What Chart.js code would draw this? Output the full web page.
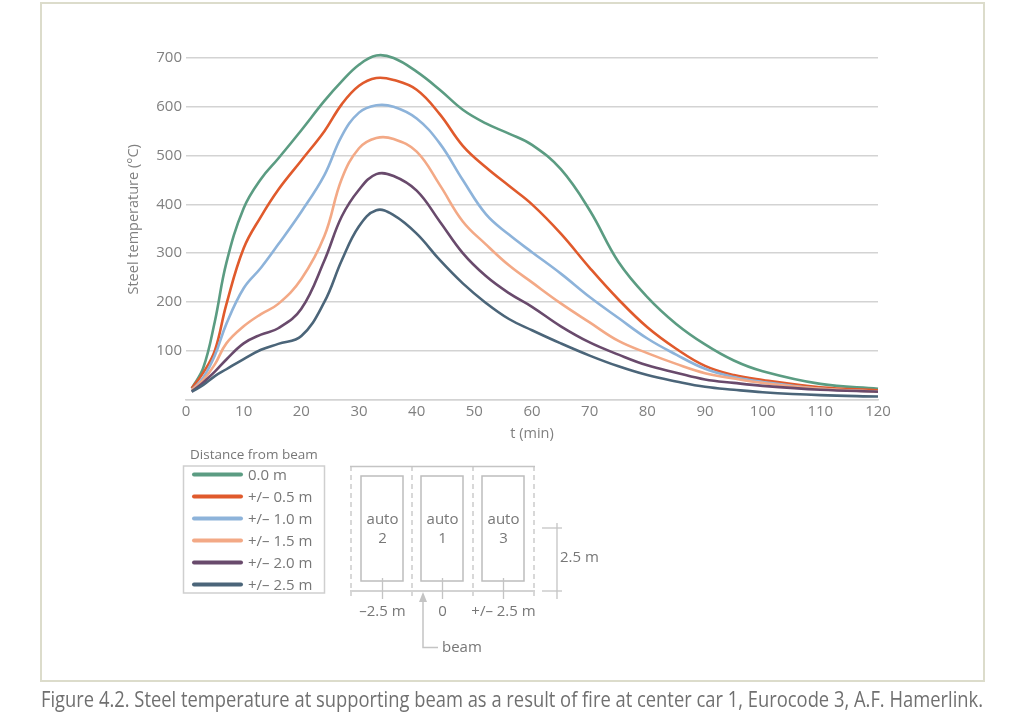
<!DOCTYPE html>
<html>
<head>
<meta charset="utf-8">
<script src="https://cdn.jsdelivr.net/npm/chart.js@4/dist/chart.umd.min.js"></script>
<style>
  body { margin: 0; background: #fff; font-family: "Open Sans", sans-serif; }
  #frame { position: absolute; left: 40px; top: 2px; width: 945px; height: 680px; box-sizing: border-box; border: 2px solid #dcdccb; }
  #wrap { position: absolute; left: 40px; top: 2px; width: 945px; height: 445px; }
  #extra { position: absolute; left: 0; top: 0; }
</style>
</head>
<body>
<div id="frame"></div>
<div id="wrap"><canvas id="canvas" width="945" height="445"></canvas></div>
<svg id="extra" width="1024" height="712"></svg>
<script>
// time in minutes
const minutes = [1, 3, 5, 7, 10, 13, 16, 20, 24, 27, 30, 33, 36, 40, 44, 48, 52, 56, 60, 65, 70, 75, 80, 85, 90, 95, 100, 110, 120];

// steel temperature (°C) per distance from beam
const d00 = [23, 65, 160, 280, 392, 452, 494, 552, 612, 652, 686, 705, 700, 672, 635, 594, 566, 545, 522, 472, 388, 282, 210, 155, 113, 80, 58, 32, 22];
const d05 = [23, 55, 100, 195, 310, 375, 430, 490, 550, 605, 643, 659, 655, 635, 585, 520, 476, 438, 400, 340, 270, 205, 148, 104, 69, 50, 40, 25, 19];
const d10 = [19, 45, 90, 155, 228, 270, 318, 385, 460, 540, 588, 603, 600, 576, 525, 450, 380, 338, 302, 258, 210, 167, 125, 92, 63, 46, 36, 22, 16];
const d15 = [19, 40, 72, 115, 150, 175, 196, 247, 335, 452, 515, 536, 534, 508, 440, 365, 318, 275, 240, 197, 158, 120, 95, 73, 54, 43, 34, 22, 16];
const d20 = [16, 35, 57, 82, 115, 133, 146, 186, 285, 375, 430, 462, 458, 428, 365, 300, 253, 218, 190, 150, 117, 92, 70, 55, 41, 34, 28, 20, 16];
const d25 = [16, 30, 48, 62, 83, 102, 114, 130, 200, 285, 355, 388, 378, 340, 286, 238, 198, 165, 142, 115, 90, 68, 50, 37, 26, 20, 15, 9, 6];

const seriesNames = ['0.0 m', '+/\u2013 0.5 m', '+/\u2013 1.0 m', '+/\u2013 1.5 m', '+/\u2013 2.0 m', '+/\u2013 2.5 m'];
const seriesColors = ['#5b9c82', '#e05a2c', '#8db3da', '#f3a986', '#694a6c', '#4b6579'];
const allSeries = [d00, d05, d10, d15, d20, d25];

const grey = '#808080';

const datasets = allSeries.map((vals, i) => ({
    label: seriesNames[i],
    data: vals.map((v, j) => ({ x: minutes[j], y: v })),
    borderColor: seriesColors[i],
    borderWidth: 2.6,
    pointRadius: 0,
    tension: 0.4,
    clip: false,
    fill: false
}));

const myChart = new Chart(document.getElementById('canvas'), {
    type: 'line',
    data: { datasets: datasets.slice().reverse() },
    options: {
        responsive: false,
        animation: false,
        events: [],
        layout: { padding: { left: 81, right: 107, top: 56, bottom: 0 } },
        plugins: { legend: { display: false }, tooltip: { enabled: false } },
        scales: {
            x: {
                type: 'linear',
                min: 0,
                max: 120,
                ticks: { stepSize: 10, padding: 3, color: grey, font: { family: 'Open Sans', size: 15 } },
                grid: { display: false, drawTicks: false },
                border: { display: true, color: '#d3d3d3', width: 1.5 },
                title: { display: true, text: 't (min)', color: grey, font: { family: 'Open Sans', size: 14.5 } },
                afterFit: (scale) => { scale.height = 47.5; }
            },
            y: {
                min: 0,
                max: 700,
                ticks: {
                    stepSize: 100, padding: 4, color: grey, font: { family: 'Open Sans', size: 15 },
                    callback: (v) => v === 0 ? '' : v
                },
                grid: { color: '#d3d3d3', lineWidth: 1.5, drawTicks: false },
                border: { display: false },
                title: {
                    display: true,
                    // leading spaces lift the title a little, as in the original
                    text: '\u00a0\u00a0\u00a0\u00a0\u00a0Steel temperature (°C)',
                    color: grey, font: { family: 'Open Sans', size: 14.5 }
                },
                afterFit: (scale) => { scale.width = 65; }
            }
        }
    }
});

// legend box, car sketch and caption
const svg = document.getElementById('extra');
const NS = 'http://www.w3.org/2000/svg';
function add(tag, attrs, text) {
    const el = document.createElementNS(NS, tag);
    for (const k in attrs) el.setAttribute(k, attrs[k]);
    if (text !== undefined) el.textContent = text;
    svg.appendChild(el);
    return el;
}
const txt = (size) => ({ fill: '#777', 'font-family': 'Open Sans', 'font-size': size });
const lineCol = '#c4c4c4';

add('text', Object.assign({ x: 190, y: 458.5 }, txt(13.5)), 'Distance from beam');
add('rect', { x: 183.5, y: 466, width: 141, height: 127, fill: 'none', stroke: '#cfcfcf', 'stroke-width': 1.5 });
datasets.forEach((ds, i) => {
    const y = 474.5 + i * 22;
    add('line', { x1: 194, x2: 241, y1: y, y2: y, stroke: ds.borderColor, 'stroke-width': 4, 'stroke-linecap': 'round' });
    add('text', Object.assign({ x: 248, y: y + 5.2 }, txt(15)), ds.label);
});

// parking bays
add('line', { x1: 350, x2: 535, y1: 466.5, y2: 466.5, stroke: lineCol, 'stroke-width': 1.5 });
add('line', { x1: 350, x2: 535, y1: 591, y2: 591, stroke: lineCol, 'stroke-width': 1.5 });
[351, 412, 473, 534].forEach(x => {
    add('line', { x1: x, x2: x, y1: 466, y2: 596, stroke: lineCol, 'stroke-width': 1.3, 'stroke-dasharray': '5,4' });
});
const cars = [['2', 361, '\u20132.5 m'], ['1', 421, '0'], ['3', 482, '+/\u2013 2.5 m']];
cars.forEach(([n, x, lab]) => {
    add('rect', { x: x, y: 476, width: 42, height: 105, fill: 'none', stroke: '#bdbdbd', 'stroke-width': 1.5 });
    const cx = x + 21.5;
    add('text', Object.assign({ x: cx, y: 523.5, 'text-anchor': 'middle' }, txt(15)), 'auto');
    add('text', Object.assign({ x: cx, y: 543, 'text-anchor': 'middle' }, txt(15)), n);
    add('line', { x1: cx, x2: cx, y1: 578, y2: 599, stroke: lineCol, 'stroke-width': 1.3 });
    add('text', Object.assign({ x: cx, y: 616, 'text-anchor': 'middle' }, txt(15)), lab);
});
// beam arrow
add('polyline', { points: '423,600 423,647.5 438,647.5', fill: 'none', stroke: lineCol, 'stroke-width': 1.5 });
add('polygon', { points: '423,592 419,602 427,602', fill: lineCol });
add('text', Object.assign({ x: 442, y: 651.5 }, txt(15)), 'beam');
// 2.5 m dimension
add('line', { x1: 557, x2: 557, y1: 523, y2: 599, stroke: lineCol, 'stroke-width': 1.3 });
add('line', { x1: 542, x2: 562, y1: 528, y2: 528, stroke: lineCol, 'stroke-width': 1.3 });
add('line', { x1: 542, x2: 562, y1: 591, y2: 591, stroke: lineCol, 'stroke-width': 1.3 });
add('text', Object.assign({ x: 560, y: 562 }, txt(15)), '2.5 m');

// caption under the frame
add('text', {
    x: 41, y: 706.5, fill: '#707070', 'font-family': 'Liberation Sans Narrow, Open Sans', 'font-size': 21,
    textLength: 942, lengthAdjust: 'spacingAndGlyphs'
}, 'Figure 4.2. Steel temperature at supporting beam as a result of fire at center car 1, Eurocode 3, A.F. Hamerlink.');
</script>
</body>
</html>
